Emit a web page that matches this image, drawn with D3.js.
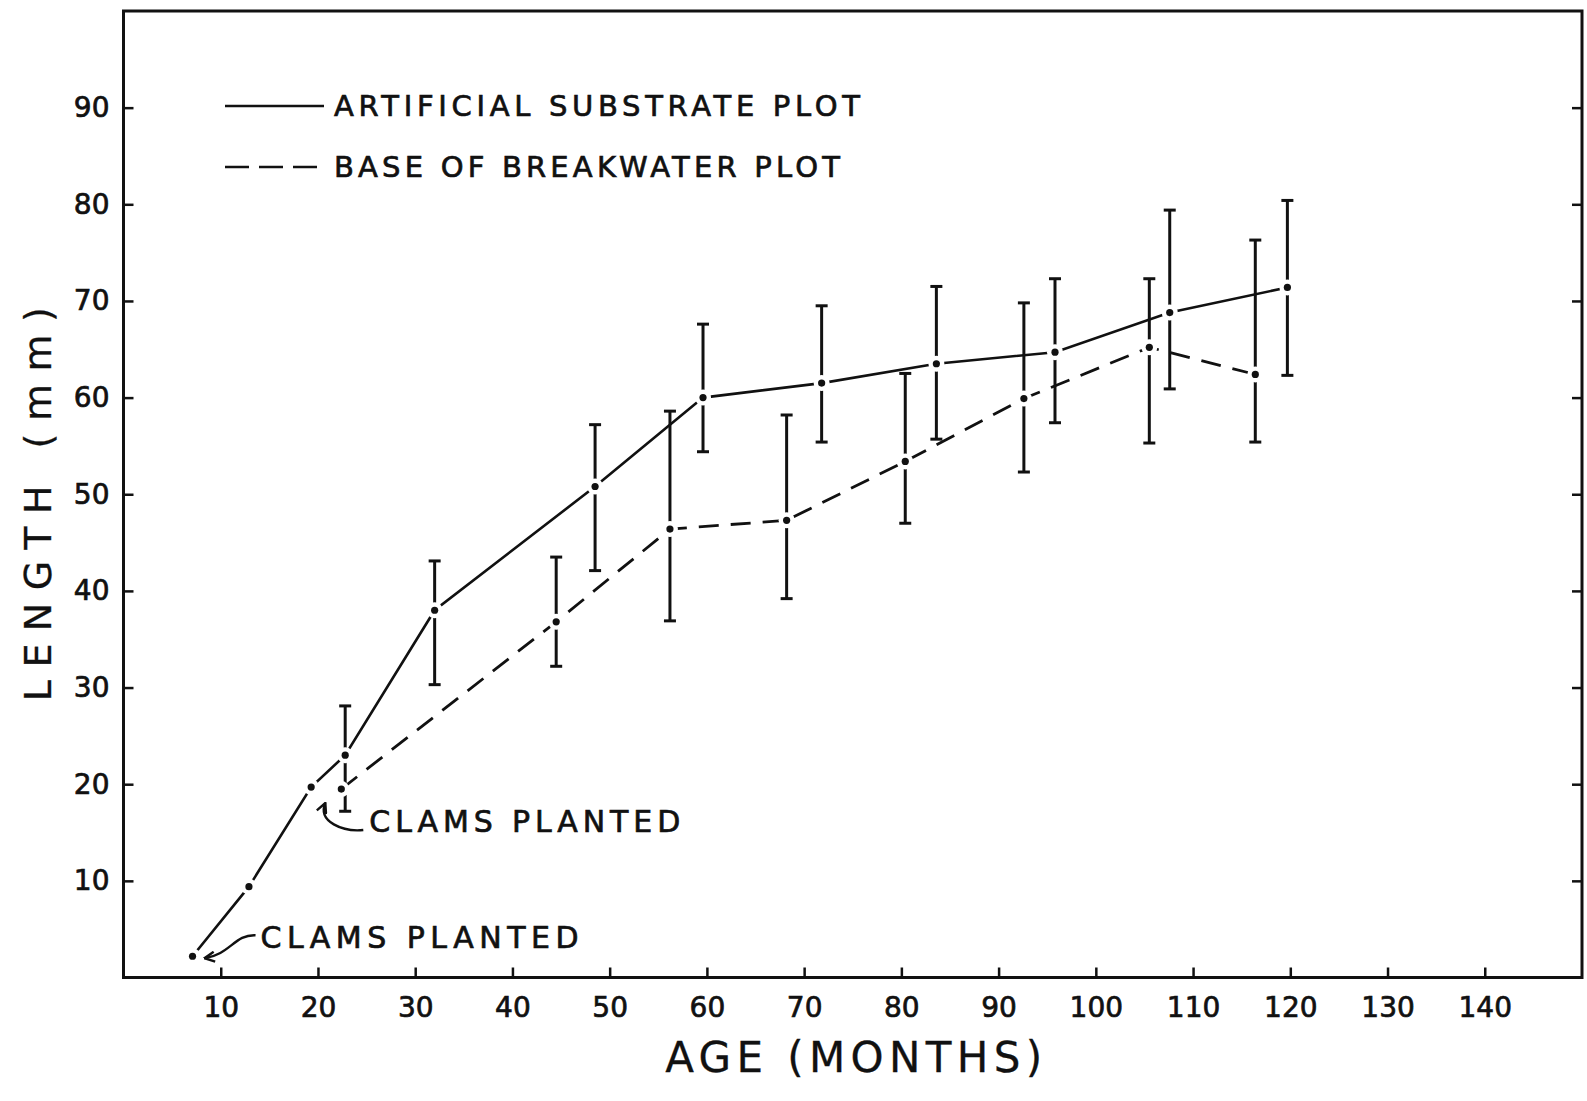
<!DOCTYPE html>
<html>
<head>
<meta charset="utf-8">
<script src="https://cdn.jsdelivr.net/npm/d3@7"></script>
<style>
    body { margin: 0; background: #fff; }
    #chart { width: 1587px; height: 1101px; }
    text { font-family: "DejaVu Sans", sans-serif; fill: #111; stroke: #111; stroke-width: 0.7px; }
</style>
</head>
<body>
<div id="chart"></div>
<script>
// artificial substrate plot (solid line)
const artAge  = [7.1, 12.9, 19.3, 22.8, 32.0, 48.5, 59.6, 71.8, 83.6, 95.8, 107.6, 119.7];
const artLen  = [2.2, 9.4, 19.7, 23.0, 38.0, 50.8, 60.0, 61.5, 63.5, 64.7, 68.8, 71.4];
const artLow  = [null, null, null, 17.2, 30.3, 42.1, 54.4, 55.4, 55.7, 57.4, 60.9, 62.3];
const artHigh = [null, null, null, 28.1, 43.1, 57.2, 67.6, 69.5, 71.5, 72.3, 79.4, 80.4];

// base of breakwater plot (dashed line)
const bwAge  = [22.4, 44.5, 56.2, 68.2, 80.4, 92.6, 105.5, 116.4];
const bwLen  = [19.5, 36.8, 46.4, 47.3, 53.4, 59.9, 65.2, 62.4];
const bwLow  = [null, 32.2, 36.9, 39.2, 47.0, 52.3, 55.3, 55.4];
const bwHigh = [null, 43.5, 58.6, 58.2, 62.5, 69.8, 72.3, 76.3];

const xTicks = [10, 20, 30, 40, 50, 60, 70, 80, 90, 100, 110, 120, 130, 140];
const yTicks = [10, 20, 30, 40, 50, 60, 70, 80, 90];

const legendNames = ['ARTIFICIAL SUBSTRATE PLOT', 'BASE OF BREAKWATER PLOT'];

let w = 1587, h = 1101;
let ink = '#111';

let svg = d3.select('#chart')
    .append('svg')
        .attr('width', w)
        .attr('height', h);

const x = d3.scaleLinear().domain([0, 150]).range([123.5, 1582]);
const y = d3.scaleLinear().domain([0, 100]).range([977.5, 11]);

let toRows = (ages, lens, lows, highs) => {
    let rows = [];
    for (let i = 0; i < ages.length; i++) {
        rows.push({age: ages[i], len: lens[i], lo: lows[i], hi: highs[i]});
    }
    return rows;
}
let art = toRows(artAge, artLen, artLow, artHigh);
let bw = toRows(bwAge, bwLen, bwLow, bwHigh);

// frame
svg.append('rect')
    .attr('x', x(0))
    .attr('y', y(100))
    .attr('width', x(150) - x(0))
    .attr('height', y(0) - y(100))
    .attr('fill', 'none')
    .attr('stroke', ink)
    .attr('stroke-width', 3);

// axes, ticks pointing inward
let xAxis = svg.append('g')
    .attr('transform', `translate(0, ${y(0)})`)
    .call(d3.axisBottom(x).tickValues(xTicks).tickSizeInner(-10).tickSizeOuter(0).tickPadding(20));
let yAxis = svg.append('g')
    .attr('transform', `translate(${x(0)}, 0)`)
    .call(d3.axisLeft(y).tickValues(yTicks).tickSizeInner(-10).tickSizeOuter(0).tickPadding(14));
let rAxis = svg.append('g')
    .attr('transform', `translate(${x(150)}, 0)`)
    .call(d3.axisRight(y).tickValues(yTicks).tickSizeInner(-10).tickSizeOuter(0).tickFormat(''));

[xAxis, yAxis, rAxis].forEach(a => {
    a.select('.domain').remove();
    a.selectAll('line').attr('stroke', ink).attr('stroke-width', 2.5);
    a.selectAll('text')
        .style('font-family', '"DejaVu Sans", sans-serif')
        .style('font-size', '28px')
        .attr('fill', ink);
});

// axis titles
svg.append('text')
    .attr('transform', `translate(${x(0) - 86}, ${(y(0) + y(100)) / 2 + 10}) rotate(-90)`)
    .attr('text-anchor', 'middle')
    .attr('dy', '0.36em')
    .attr('textLength', 394)
    .attr('lengthAdjust', 'spacing')
    .style('font-size', '38px')
    .style('stroke-width', '0.3px')
    .text('LENGTH (mm)');

svg.append('text')
    .attr('x', (x(0) + x(150)) / 2 + 1)
    .attr('y', y(0) + 94)
    .attr('text-anchor', 'middle')
    .attr('textLength', 377)
    .attr('lengthAdjust', 'spacing')
    .style('font-size', '42px')
    .style('stroke-width', '0.3px')
    .text('AGE (MONTHS)');

// lines
let line = d3.line()
    .x(d => x(d.age))
    .y(d => y(d.len));

svg.append('path')
    .datum(art)
    .attr('d', line)
    .attr('fill', 'none')
    .attr('stroke', ink)
    .attr('stroke-width', 2.6);

svg.append('path')
    .datum(bw)
    .attr('d', line)
    .attr('fill', 'none')
    .attr('stroke', ink)
    .attr('stroke-width', 2.8)
    .attr('stroke-dasharray', '20,12');

// error bars
let bars = art.concat(bw).filter(d => d.lo !== null);
let capW = 6;

svg.selectAll('bar-line')
    .data(bars).enter()
    .append('line')
    .attr('x1', d => x(d.age))
    .attr('x2', d => x(d.age))
    .attr('y1', d => y(d.lo))
    .attr('y2', d => y(d.hi))
    .attr('stroke', ink)
    .attr('stroke-width', 3);

['lo', 'hi'].forEach(k => {
    svg.selectAll('bar-cap')
        .data(bars).enter()
        .append('line')
        .attr('x1', d => x(d.age) - capW)
        .attr('x2', d => x(d.age) + capW)
        .attr('y1', d => y(d[k]))
        .attr('y2', d => y(d[k]))
        .attr('stroke', ink)
        .attr('stroke-width', 3);
});

// gaps around each point, then the dot
let pts = art.concat(bw);
svg.selectAll('halo')
    .data(pts).enter()
    .append('circle')
    .attr('cx', d => x(d.age))
    .attr('cy', d => y(d.len))
    .attr('r', 8)
    .attr('fill', '#fff');

svg.selectAll('dot')
    .data(pts).enter()
    .append('circle')
    .attr('cx', d => x(d.age))
    .attr('cy', d => y(d.len))
    .attr('r', 3.6)
    .attr('fill', ink);

// legend
let legend = svg.append('g');
legendNames.forEach((name, i) => {
    let ly = 106 + i * 61;
    legend.append('line')
        .attr('x1', 225)
        .attr('x2', 324)
        .attr('y1', ly)
        .attr('y2', ly)
        .attr('stroke', ink)
        .attr('stroke-width', 2.6)
        .attr('stroke-dasharray', i === 0 ? null : '24,10');
    legend.append('text')
        .attr('x', 334)
        .attr('y', ly)
        .attr('dy', '0.36em')
        .attr('textLength', i === 0 ? 526 : 506)
        .attr('lengthAdjust', 'spacing')
        .style('font-size', '29px')
        .text(name);
});

// "clams planted" notes
svg.append('defs').append('marker')
    .attr('id', 'head')
    .attr('viewBox', '0 0 12 12')
    .attr('refX', 11)
    .attr('refY', 6)
    .attr('markerWidth', 12)
    .attr('markerHeight', 12)
    .attr('markerUnits', 'userSpaceOnUse')
    .attr('orient', 'auto')
    .append('path')
        .attr('d', 'M1,1 L11,6 L1,11')
        .attr('fill', 'none')
        .attr('stroke', ink)
        .attr('stroke-width', 2.4);

let p0 = {x: x(artAge[0]), y: y(artLen[0])};
let p1 = {x: x(bwAge[0]), y: y(bwLen[0])};

svg.append('path')
    .attr('d', `M${p0.x + 63},${p0.y - 21} C${p0.x + 42},${p0.y - 22} ${p0.x + 38},${p0.y - 2} ${p0.x + 12},${p0.y + 2}`)
    .attr('fill', 'none')
    .attr('stroke', ink)
    .attr('stroke-width', 2.4)
    .attr('marker-end', 'url(#head)');

svg.append('text')
    .attr('x', p0.x + 68)
    .attr('y', p0.y - 19)
    .attr('dy', '0.36em')
    .attr('textLength', 318)
    .attr('lengthAdjust', 'spacing')
    .style('font-size', '30px')
    .text('CLAMS PLANTED');

svg.append('path')
    .attr('d', `M${p1.x + 22},${p1.y + 41} C${p1.x + 2},${p1.y + 43} ${p1.x - 24},${p1.y + 33} ${p1.x - 16},${p1.y + 14}`)
    .attr('fill', 'none')
    .attr('stroke', ink)
    .attr('stroke-width', 2.4)
    .attr('marker-end', 'url(#head)');

svg.append('text')
    .attr('x', p1.x + 28)
    .attr('y', p1.y + 32)
    .attr('dy', '0.36em')
    .attr('textLength', 311)
    .attr('lengthAdjust', 'spacing')
    .style('font-size', '30px')
    .text('CLAMS PLANTED');
</script>
</body>
</html>
